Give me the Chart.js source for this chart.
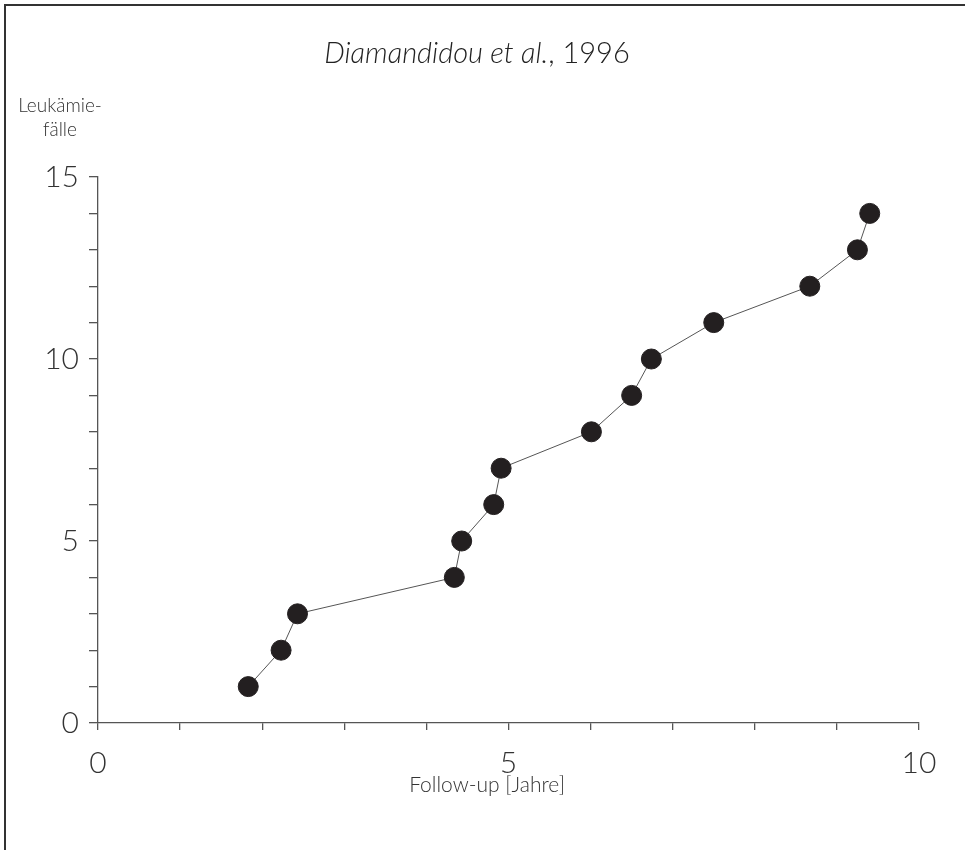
<!DOCTYPE html>
<html>
<head>
<meta charset="utf-8">
<script src="https://cdn.jsdelivr.net/npm/chart.js@4/dist/chart.umd.min.js"></script>
<style>
  html, body { margin: 0; padding: 0; background: #fff; }
  #wrap { position: relative; width: 965px; height: 850px; overflow: hidden; }
  #frame { position: absolute; left: 4px; top: 4px; width: 1000px; height: 1000px;
           border-top: 2px solid #333; border-left: 2px solid #333; pointer-events: none; }
  canvas { position: absolute; left: 0; top: 0; }
</style>
</head>
<body>
<div id="wrap">
  <canvas id="c" width="965" height="850"></canvas>
  <div id="frame"></div>
</div>
<script>
// ---- data ----
const followUpYears = [1.83, 2.23, 2.43, 4.34, 4.43, 4.82, 4.91, 6.01, 6.50, 6.74, 7.50, 8.67, 9.25, 9.40];
const leukemiaCases = [1, 2, 3, 4, 5, 6, 7, 8, 9, 10, 11, 12, 13, 14];
const xTickLabels = [0, 5, 10];
const yTickLabels = [0, 5, 10, 15];
const titleItalic = 'Diamandidou et al.';
const titleRegular = ', 1996';
const yTitleLines = ['Leukämie-', 'fälle'];
const xTitle = 'Follow-up [Jahre]';

const FONT = 'Lato, "Open Sans", "DejaVu Sans", sans-serif';
const TEXT = '#333';
const AXIS = '#555';

const points = followUpYears.map((x, i) => ({ x: x, y: leukemiaCases[i] }));

const textPlugin = {
  id: 'extraText',
  afterDraw(chart) {
    const ctx = chart.ctx;
    ctx.save();
    ctx.fillStyle = '#222';
    ctx.textBaseline = 'alphabetic';
    // title with mixed styles
    ctx.font = 'italic 300 29px ' + FONT;
    const w1 = ctx.measureText(titleItalic).width;
    ctx.font = '300 29px ' + FONT;
    const w2 = ctx.measureText(titleRegular).width;
    const startX = 477 - (w1 + w2) / 2;
    ctx.font = 'italic 300 29px ' + FONT;
    ctx.textAlign = 'left';
    ctx.fillText(titleItalic, startX, 63);
    ctx.font = '300 29px ' + FONT;
    ctx.fillText(titleRegular, startX + w1, 63);
    ctx.fillStyle = TEXT;
    // y axis title
    ctx.font = '300 19px ' + FONT;
    ctx.textAlign = 'center';
    ctx.fillText(yTitleLines[0], 60, 112);
    ctx.fillText(yTitleLines[1], 60, 136);
    // x axis title
    ctx.font = '300 21px ' + FONT;
    ctx.fillText(xTitle, 487, 792);
    ctx.restore();
  }
};

new Chart(document.getElementById('c'), {
  type: 'scatter',
  data: {
    datasets: [{
      data: points,
      showLine: true,
      borderColor: '#555',
      borderWidth: 1,
      backgroundColor: '#231f20',
      pointBackgroundColor: '#231f20',
      pointBorderColor: '#231f20',
      pointRadius: 10,
      pointHoverRadius: 10,
      clip: false
    }]
  },
  options: {
    responsive: false,
    animation: false,
    events: [],
    layout: { padding: { left: 0, top: 177, right: 46, bottom: 0 } },
    plugins: { legend: { display: false }, title: { display: false }, tooltip: { enabled: false } },
    scales: {
      x: {
        type: 'linear',
        min: 0, max: 10,
        afterFit(s) { s.height = 127; },
        ticks: {
          stepSize: 1,
          autoSkip: false,
          maxRotation: 0,
          padding: 15,
          color: TEXT,
          font: { family: FONT, size: 30, weight: '300' },
          callback: v => xTickLabels.includes(v) ? String(v) : ''
        },
        grid: { drawOnChartArea: false, drawTicks: true, tickLength: 7, color: AXIS, lineWidth: 1.3 },
        border: { display: true, color: AXIS, width: 1.3 }
      },
      y: {
        type: 'linear',
        min: 0, max: 15,
        afterFit(s) { s.width = 98; },
        ticks: {
          stepSize: 1,
          autoSkip: false,
          padding: 10,
          color: TEXT,
          font: { family: FONT, size: 30, weight: '300' },
          callback: v => yTickLabels.includes(v) ? String(v) : ''
        },
        grid: { drawOnChartArea: false, drawTicks: true, tickLength: 9, color: AXIS, lineWidth: 1.3 },
        border: { display: true, color: AXIS, width: 1.3 }
      }
    }
  },
  plugins: [textPlugin]
});
</script>
</body>
</html>
